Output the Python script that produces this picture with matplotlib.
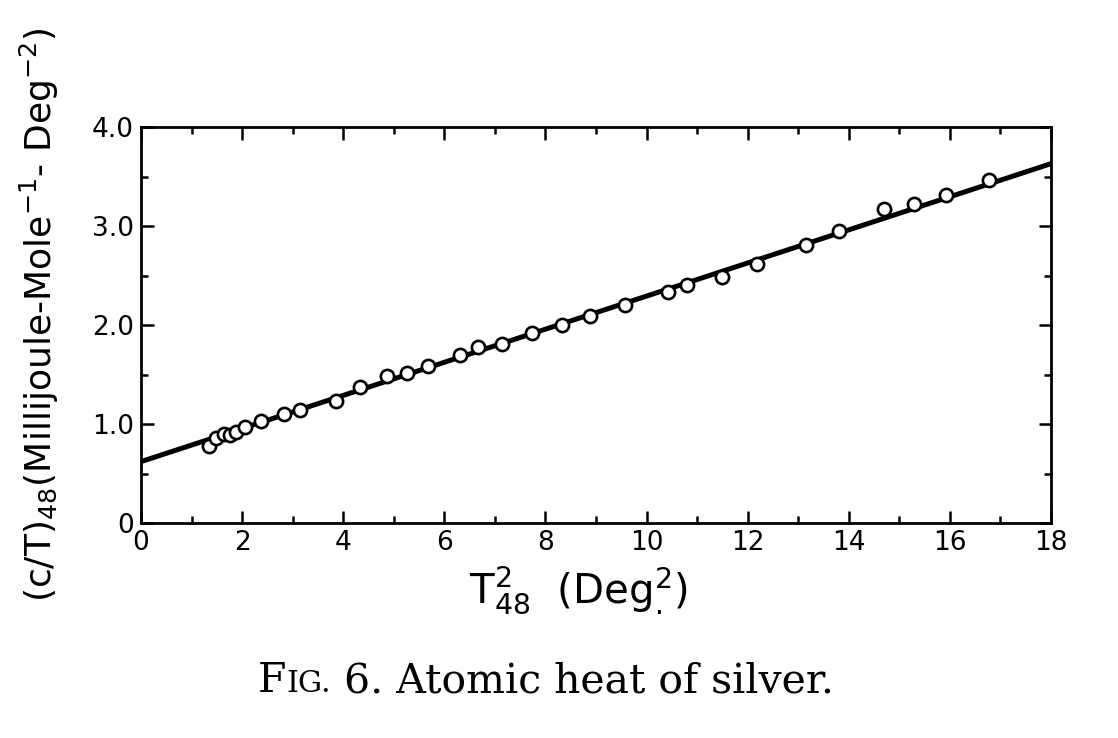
import matplotlib
matplotlib.use("Agg")
import matplotlib.pyplot as plt
from matplotlib.ticker import MultipleLocator, FixedLocator, FixedFormatter

plt.rcParams['font.family'] = ['DejaVu Sans']
plt.rcParams['mathtext.default'] = 'regular'

# measured points, T^2 (Deg^2) vs c/T
t2_vals = [1.35, 1.48, 1.64, 1.76, 1.88, 2.06, 2.37, 2.83, 3.15, 3.86,
           4.33, 4.87, 5.26, 5.68, 6.31, 6.67, 7.14, 7.73, 8.33, 8.88,
           9.57, 10.42, 10.80, 11.49, 12.19, 13.16, 13.81, 14.70, 15.29,
           15.92, 16.78]
ct_vals = [0.78, 0.86, 0.90, 0.89, 0.92, 0.97, 1.03, 1.10, 1.14, 1.23,
           1.37, 1.48, 1.52, 1.59, 1.70, 1.78, 1.81, 1.92, 2.00, 2.09,
           2.20, 2.33, 2.40, 2.48, 2.62, 2.81, 2.95, 3.17, 3.22,
           3.31, 3.46]

# straight line fit end points
fit_x = [0, 18]
fit_y = [0.62, 3.63]

xticks = [0, 2, 4, 6, 8, 10, 12, 14, 16, 18]
xlabels = ['0', '2', '4', '6', '8', '10', '12', '14', '16', '18']
yticks = [0, 1, 2, 3, 4]
ylabels = ['0', '1.0', '2.0', '3.0', '4.0']

fig = plt.figure(figsize=(11.18, 7.38), dpi=100)
ax = fig.add_axes([0.1261, 0.2913, 0.814, 0.5366])

ax.plot(fit_x, fit_y, color='black', lw=3.6, solid_capstyle='butt', zorder=2)
ax.plot(t2_vals, ct_vals, 'o', ms=9.5, mfc='white', mec='black', mew=1.9, zorder=3)

ax.set_xlim(0, 18)
ax.set_ylim(0, 4.0)
ax.xaxis.set_major_locator(FixedLocator(xticks))
ax.xaxis.set_major_formatter(FixedFormatter(xlabels))
ax.yaxis.set_major_locator(FixedLocator(yticks))
ax.yaxis.set_major_formatter(FixedFormatter(ylabels))
ax.xaxis.set_minor_locator(MultipleLocator(1))
ax.yaxis.set_minor_locator(MultipleLocator(0.5))

ax.tick_params(which='both', direction='in', top=True, right=True, width=1.8, colors='black')
ax.tick_params(which='major', length=9, labelsize=19, pad=5)
ax.tick_params(which='minor', length=5)
for s in ax.spines.values():
    s.set_linewidth(2.0)

ax.set_xlabel(r'T$_{48}^{2}$  (Deg$^{2}_{.}$)', fontsize=29)
ax.set_ylabel(r'(c/T)$_{48}$(Millijoule-Mole$^{-1}$- Deg$^{-2}$)', fontsize=26)
ax.xaxis.set_label_coords(0.48, -0.105)
ax.yaxis.set_label_coords(-0.088, 0.525)

# caption with small caps "FIG."
fig.canvas.draw()
r = fig.canvas.get_renderer()
cs = 29.5
x0 = 0.2308
y0 = 0.062
parts = [("F", cs), ("IG.", cs * 0.74), (" 6. Atomic heat of silver.", cs)]
x = x0
for txt, size in parts:
    t = fig.text(x, y0, txt, fontsize=size, family='DejaVu Serif', va='baseline', ha='left')
    x += t.get_window_extent(r).width / fig.bbox.width

fig.savefig('out.png', dpi=100)
